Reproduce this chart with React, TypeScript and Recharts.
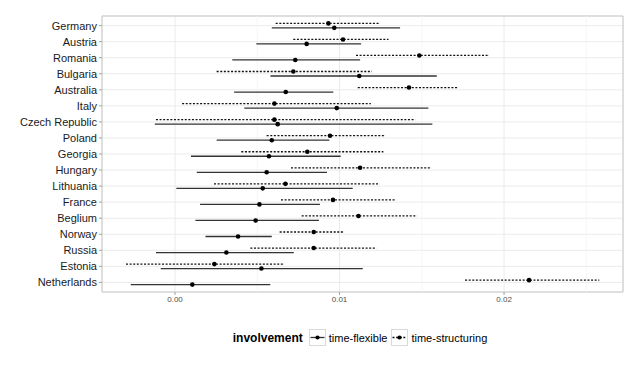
import React from 'react';
import {
  ScatterChart,
  Scatter,
  XAxis,
  YAxis,
  CartesianGrid,
  ErrorBar,
  ReferenceLine,
  ReferenceArea,
  Legend,
} from 'recharts';

const countries = [
  'Germany', 'Austria', 'Romania', 'Bulgaria', 'Australia', 'Italy', 'Czech Republic',
  'Poland', 'Georgia', 'Hungary', 'Lithuania', 'France', 'Beglium', 'Norway', 'Russia',
  'Estonia', 'Netherlands',
];

const flexEst = [0.00968, 0.008, 0.00731, 0.0112, 0.00673, 0.00983, 0.00624, 0.00588, 0.00571, 0.00557, 0.00533, 0.00513, 0.0049, 0.00383, 0.00312, 0.00525, 0.00105];
const flexLo = [0.00588, 0.00494, 0.00348, 0.0058, 0.00359, 0.00421, -0.00123, 0.00253, 0.00097, 0.00132, 0.00008, 0.00152, 0.00124, 0.00185, -0.00116, -0.00087, -0.00269];
const flexHi = [0.01368, 0.01131, 0.01125, 0.01591, 0.00962, 0.0154, 0.01564, 0.00938, 0.01007, 0.00924, 0.0108, 0.00881, 0.00875, 0.00588, 0.00722, 0.01141, 0.00579];

const structEst = [0.00932, 0.01021, 0.01485, 0.00719, 0.01422, 0.00604, 0.00604, 0.00942, 0.00804, 0.01125, 0.00671, 0.0096, 0.01115, 0.00843, 0.00843, 0.00239, 0.02152];
const structLo = [0.00612, 0.00719, 0.011, 0.00253, 0.01111, 0.00043, -0.00116, 0.00557, 0.00403, 0.00705, 0.00237, 0.00644, 0.0077, 0.00636, 0.00458, -0.00298, 0.01763];
const structHi = [0.0124, 0.01297, 0.01905, 0.01196, 0.01716, 0.0119, 0.01459, 0.01272, 0.01266, 0.0155, 0.01242, 0.01343, 0.01469, 0.01021, 0.01222, 0.00658, 0.02578];

const xMajorTicks = [0, 0.01, 0.02];
const xMinorTicks = [0.005, 0.015, 0.025];
const seriesNames = ['time-flexible', 'time-structuring'];

const X_DOMAIN: [number, number] = [-0.00444, 0.02723];
const Y_DOMAIN: [number, number] = [-0.6, 16.6];
const DODGE = 0.14;
const FONT = '"Liberation Sans", Arial, Helvetica, sans-serif';

const flexData = countries.map((c, i) => ({
  name: c,
  x: flexEst[i],
  y: i + DODGE,
  err: [flexEst[i] - flexLo[i], flexHi[i] - flexEst[i]],
}));
const structData = countries.map((c, i) => ({
  name: c,
  x: structEst[i],
  y: i - DODGE,
  err: [structEst[i] - structLo[i], structHi[i] - structEst[i]],
}));

const dotShape = (props: any) => <circle cx={props.cx} cy={props.cy} r={2.3} fill="#000" />;

const YTick = (props: any) => {
  const { x, y, payload } = props;
  return (
    <text x={x} y={y} dy="0.36em" textAnchor="end" fontSize={11} fill="#1a1a1a" fontFamily={FONT}>
      {countries[payload.value] ?? ''}
    </text>
  );
};

const Key = ({ dashed }: { dashed: boolean }) => (
  <svg width={17} height={17} style={{ display: 'block' }}>
    <rect x={0.5} y={0.5} width={16} height={16} fill="#fff" stroke="#d9d9d9" />
    <line x1={1.5} x2={15.5} y1={8.5} y2={8.5} stroke={dashed ? '#111' : '#333'} strokeWidth={1.3} strokeDasharray={dashed ? '2 1.6' : undefined} />
    <circle cx={8.5} cy={8.5} r={2.1} fill="#000" />
  </svg>
);

const LegendContent = () => (
  <div
    style={{
      display: 'flex',
      alignItems: 'center',
      justifyContent: 'center',
      paddingLeft: 72,
      fontFamily: FONT,
      color: '#000',
      height: 17,
    }}
  >
    <span style={{ fontWeight: 'bold', fontSize: 12, marginRight: 6 }}>involvement</span>
    <Key dashed={false} />
    <span style={{ fontSize: 11, marginLeft: 3, marginRight: 4 }}>{seriesNames[0]}</span>
    <Key dashed={true} />
    <span style={{ fontSize: 11, marginLeft: 3 }}>{seriesNames[1]}</span>
  </div>
);

export default function App() {
  return (
    <div style={{ width: 632, height: 358, fontFamily: FONT, background: '#fff' }}>
      <ScatterChart width={632} height={358} margin={{ top: 8, right: 17, left: 0, bottom: 37 }}>
        <CartesianGrid stroke="#ebebeb" strokeWidth={1} />
        {xMinorTicks.map((v) => (
          <ReferenceLine key={v} x={v} stroke="#f4f4f4" strokeWidth={0.8} />
        ))}
        <XAxis
          type="number"
          dataKey="x"
          domain={X_DOMAIN}
          allowDataOverflow
          ticks={xMajorTicks}
          tickFormatter={(v: number) => v.toFixed(2)}
          tick={{ fontSize: 8, fill: '#4d4d4d', fontFamily: FONT }}
          tickSize={3}
          tickMargin={1}
          tickLine={{ stroke: '#a0a0a0' }}
          axisLine={false}
          height={20}
        />
        <YAxis
          type="number"
          dataKey="y"
          domain={Y_DOMAIN}
          allowDataOverflow
          reversed
          ticks={countries.map((_, i) => i)}
          interval={0}
          tick={<YTick />}
          tickSize={3}
          tickMargin={2}
          tickLine={{ stroke: '#a0a0a0' }}
          axisLine={false}
          width={94}
        />
        <ReferenceArea
          x1={X_DOMAIN[0]}
          x2={X_DOMAIN[1]}
          y1={Y_DOMAIN[0]}
          y2={Y_DOMAIN[1]}
          fill="none"
          stroke="#c8c8c8"
          strokeWidth={1}
          ifOverflow="visible"
        />
        <Scatter name={seriesNames[1]} data={structData} shape={dotShape} isAnimationActive={false}>
          <ErrorBar dataKey="err" direction="x" width={0} stroke="#111" strokeWidth={1.3} strokeDasharray="2 1.6" />
        </Scatter>
        <Scatter name={seriesNames[0]} data={flexData} shape={dotShape} isAnimationActive={false}>
          <ErrorBar dataKey="err" direction="x" width={0} stroke="#333" strokeWidth={1.3} />
        </Scatter>
        <Legend
          verticalAlign="bottom"
          align="center"
          wrapperStyle={{ left: 0, width: 632, bottom: 20, height: 17 }}
          content={() => <LegendContent />}
        />
      </ScatterChart>
    </div>
  );
}
